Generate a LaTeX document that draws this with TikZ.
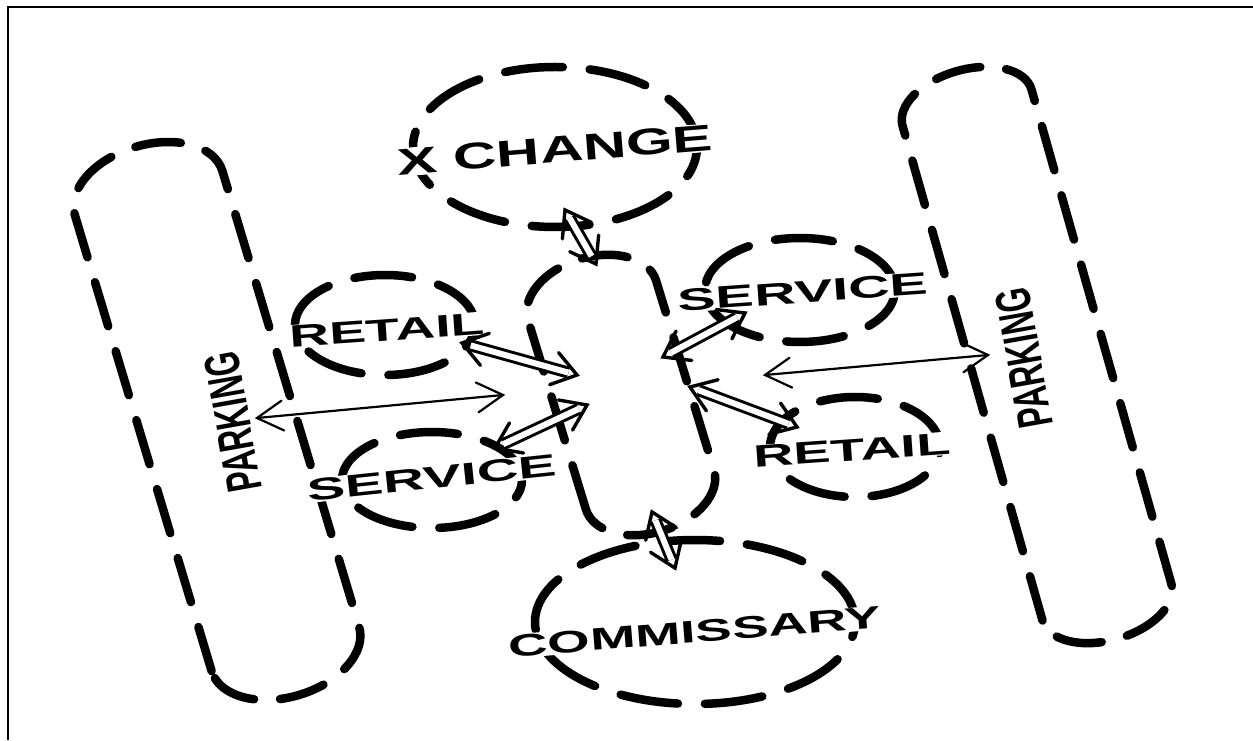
\documentclass[tikz,border=0pt]{standalone}
\usepackage{fontspec}
\setmainfont{Liberation Sans}
\usetikzlibrary{calc}
\tikzset{
	dashline/.style={line width=8.5pt, line cap=round, dash pattern=on 58pt off 27pt},
	lotline/.style={line width=8.5pt, line cap=round, dash pattern=on 46pt off 26pt},
	lbl/.style={font=\fontsize{31}{31}\selectfont\bfseries, fill=white, inner sep=1pt},
	dblshaft/.style={double, double distance=6pt, line width=3pt},
	vhead/.style={line width=3.4pt, line cap=round},
	thinline/.style={line width=2.2pt, line cap=round}
}
\def\dblarrow(#1)(#2){%
	\draw[dblshaft] ($(#1)!9pt!(#2)$) -- ($(#2)!9pt!(#1)$);
	\draw[vhead] ($(#1)!29pt!35:(#2)$) -- (#1) -- ($(#1)!29pt!-35:(#2)$);
	\draw[vhead] ($(#2)!29pt!35:(#1)$) -- (#2) -- ($(#2)!29pt!-35:(#1)$);}
\def\thinarrow(#1)(#2){%
	\draw[thinline] (#1) -- (#2);
	\draw[thinline] ($(#1)!30pt!30:(#2)$) -- (#1) -- ($(#1)!30pt!-30:(#2)$);
	\draw[thinline] ($(#2)!30pt!30:(#1)$) -- (#2) -- ($(#2)!30pt!-30:(#1)$);}
\begin{document}
\begin{tikzpicture}[x=1pt, y=1pt]
				\useasboundingbox (0,0) rectangle (1253,740);
				\draw[line width=2.5pt] (8,0) -- (8,733) -- (1253,733);
				
				% parking lots and core
				\begin{scope}[shift={(217,319)}, rotate=16.7]
					\draw[lotline] (-77,-238) -- (-77,238) arc (180:0:77 and 48) -- (77,-238) arc (0:-180:77 and 48);
				\end{scope}
				\begin{scope}[shift={(1037,385)}, rotate=15.8]
					\draw[lotline] (-67,-257) -- (-67,257) arc (180:0:67 and 38) -- (67,-257) arc (0:-180:67 and 38);
				\end{scope}
				\begin{scope}[shift={(621,345)}, rotate=17]
					\draw[lotline] (-67,-99) -- (-67,99) arc (180:0:67 and 43) -- (67,-99) arc (0:-180:67 and 43);
				\end{scope}
				
				% areas
				\draw[dashline] (555,593) ellipse [x radius=142, y radius=80];
				\draw[dashline] (385,415) ellipse [x radius=90, y radius=50];
				\draw[dashline] (432,260) ellipse [x radius=90, y radius=48];
				\draw[dashline] (800,450) ellipse [x radius=95, y radius=52];
				\draw[dashline] (855,293) ellipse [x radius=85, y radius=50];
				\draw[dashline] (695,118) ellipse [x radius=160, y radius=82];
				
				% labels
				\node[lbl, font=\fontsize{37}{37}\selectfont\bfseries, rotate=4.6, xscale=1.62] (xchange) at (555,590) {X CHANGE};
				\node[lbl, rotate=4, xscale=1.78] (retailL) at (387,410) {RETAIL};
				\node[lbl, rotate=6, xscale=1.85] (serviceL) at (432,262) {SERVICE};
				\node[lbl, rotate=4, xscale=1.85] (serviceR) at (803,448) {SERVICE};
				\node[lbl, rotate=4, xscale=1.8] (retailR) at (852,290) {RETAIL};
				\node[lbl, rotate=4.5, xscale=1.76] (commissary) at (695,108) {COMMISSARY};
				\node[lbl, fill=none, rotate=100, yscale=1.6] (parkingL) at (233,318) {PARKING};
				\node[lbl, fill=none, rotate=100, yscale=1.6] (parkingR) at (1024,382) {PARKING};
				
				% connectors
				\coordinate (xa) at (565,530);
				\coordinate (xb) at (596,476);
				\coordinate (ra) at (462,397);
				\coordinate (rb) at (577,365);
				\coordinate (sa) at (495,292);
				\coordinate (sb) at (587,335);
				\coordinate (pa) at (257,322);
				\coordinate (pb) at (503,345);
				\coordinate (Sa) at (663,383);
				\coordinate (Sb) at (745,427);
				\coordinate (Ra) at (690,353);
				\coordinate (Rb) at (797,313);
				\coordinate (Pa) at (765,365);
				\coordinate (Pb) at (988,385);
				\coordinate (ca) at (652,228);
				\coordinate (cb) at (675,172);
				\dblarrow(xa)(xb)
				\dblarrow(ra)(rb)
				\dblarrow(sa)(sb)
				\dblarrow(Sa)(Sb)
				\dblarrow(Ra)(Rb)
				\dblarrow(ca)(cb)
				\thinarrow(pa)(pb)
				\thinarrow(Pa)(Pb)
			\end{tikzpicture}
\end{document}
